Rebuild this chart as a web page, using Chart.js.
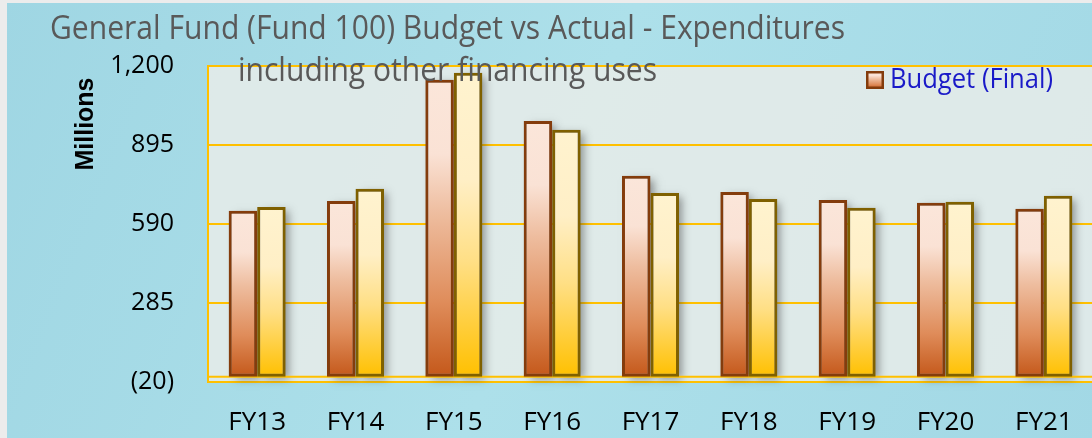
<!DOCTYPE html>
<html>
<head>
<meta charset="utf-8">
<script src="https://cdn.jsdelivr.net/npm/chart.js@4.4.1/dist/chart.umd.min.js"></script>
<style>
html,body{margin:0;padding:0;overflow:hidden;background:#a8dbe6;}
#wrap{width:1100px;height:438px;position:relative;}
</style>
</head>
<body>
<div id="wrap"><canvas id="c" width="1100" height="438"></canvas></div>
<script>
// ---- data ----
const categories = ['FY13','FY14','FY15','FY16','FY17','FY18','FY19','FY20','FY21'];
const budgetFinal = [641, 679, 1147, 988, 776, 714, 683, 672, 649];
const actualSpent = [656, 726, 1174, 954, 710, 687, 653, 676, 699];
const yTickValues = [-20, 285, 590, 895, 1200];
const titleLines = ['General Fund (Fund 100) Budget vs Actual - Expenditures', 'including other financing uses'];
const yAxisTitle = 'Millions';
const seriesNames = ['Budget (Final)', 'Actual'];

// ---- styles ----
const budgetStops = [[0,'#FBE6DA'],[0.25,'#FAE2D5'],[0.45,'#EEBD9F'],[0.75,'#DF8C5A'],[1,'#C4581A']];
const actualStops = [[0,'#FFF3CF'],[0.35,'#FFEFC6'],[0.62,'#FFDF85'],[1,'#FFC000']];

function barGradient(context, stops) {
  const chart = context.chart;
  const y = chart.scales && chart.scales.y;
  if (!y || context.raw === undefined || !isFinite(y.top)) return stops[0][1];
  const top = y.getPixelForValue(context.raw);
  const base = y.getPixelForValue(0);
  if (!isFinite(top) || !isFinite(base) || top === base) return stops[0][1];
  const g = chart.ctx.createLinearGradient(0, top, 0, base);
  stops.forEach(s => g.addColorStop(s[0], s[1]));
  return g;
}

function condensedText(ctx, text, x, y, size, targetWidth, align) {
  ctx.font = size + 'px "Open Sans", sans-serif';
  const w = ctx.measureText(text).width;
  const sx = targetWidth / w;
  ctx.save();
  ctx.translate(x, y);
  ctx.scale(sx, 1);
  ctx.textAlign = align;
  ctx.fillText(text, 0, 0);
  ctx.restore();
  return sx;
}

const backgroundPlugin = {
  id: 'bg',
  beforeDraw(chart) {
    const {ctx, width, height, chartArea} = chart;
    ctx.save();
    const g = ctx.createLinearGradient(0, 0, width, height);
    g.addColorStop(0, '#9fd6e3');
    g.addColorStop(0.5, '#ade0ea');
    g.addColorStop(1, '#a2d8e5');
    ctx.fillStyle = g;
    ctx.fillRect(0, 0, width, height);
    ctx.fillStyle = '#ececec';
    ctx.fillRect(0, 0, width, 3);
    ctx.fillRect(0, 0, 7, height);
    ctx.fillStyle = 'rgba(234,237,233,0.82)';
    ctx.fillRect(chartArea.left, chartArea.top, chartArea.right - chartArea.left, chartArea.bottom - chartArea.top);
    ctx.restore();
  },
  beforeDatasetsDraw(chart) {
    const {ctx} = chart;
    const y = chart.scales.y;
    ctx.save();
    ctx.shadowColor = 'rgba(60,60,60,0.5)';
    ctx.shadowBlur = 8;
    ctx.shadowOffsetX = 5;
    ctx.shadowOffsetY = 2;
    ctx.fillStyle = 'rgba(120,120,120,1)';
    chart.data.datasets.forEach((ds, i) => {
      chart.getDatasetMeta(i).data.forEach(el => {
        const p = el.getProps(['x','y','base','width'], true);
        ctx.fillRect(p.x - p.width / 2 + 2, p.y + 2, p.width - 4, p.base - p.y - 2);
      });
    });
    ctx.restore();
    ctx.save();
    const z = y.getPixelForValue(0);
    ctx.strokeStyle = '#FFC000';
    ctx.lineWidth = 2;
    ctx.beginPath();
    ctx.moveTo(chart.chartArea.left, z);
    ctx.lineTo(chart.chartArea.right, z);
    ctx.stroke();
    ctx.restore();
  },
  afterDraw(chart) {
    const {ctx} = chart;
    ctx.save();
    // title (two lines, condensed sans)
    ctx.fillStyle = '#595959';
    ctx.textBaseline = 'alphabetic';
    const sx = condensedText(ctx, titleLines[0], 447.5, 39, 32, 795, 'center');
    ctx.font = '32px "Open Sans", sans-serif';
    const w2 = ctx.measureText(titleLines[1]).width * sx;
    condensedText(ctx, titleLines[1], 447.5, 81, 32, w2, 'center');
    // y axis title
    ctx.save();
    ctx.translate(86, 124);
    ctx.rotate(-Math.PI / 2);
    ctx.fillStyle = '#000';
    ctx.font = 'bold 25px "Liberation Sans", Arial, sans-serif';
    ctx.textAlign = 'center';
    ctx.textBaseline = 'middle';
    ctx.fillText(yAxisTitle, 0, 0);
    ctx.restore();
    // legend
    const mx = 866, my = 71, ms = 18;
    const lg = ctx.createLinearGradient(0, my, 0, my + ms);
    budgetStops.forEach(s => lg.addColorStop(s[0], s[1]));
    ctx.fillStyle = lg;
    ctx.fillRect(mx, my, ms, ms);
    ctx.strokeStyle = '#843C0C';
    ctx.lineWidth = 2.5;
    ctx.strokeRect(mx + 1.25, my + 1.25, ms - 2.5, ms - 2.5);
    ctx.fillStyle = '#1a1ac8';
    ctx.textBaseline = 'alphabetic';
    condensedText(ctx, seriesNames[0], 890, 88, 28, 163, 'left');
    ctx.font = '28px "Open Sans", sans-serif';
    ctx.textAlign = 'left';
    ctx.fillText(seriesNames[1], 1120, 88);
    ctx.restore();
  }
};

function fmt(v) {
  const s = Math.abs(v).toLocaleString('en-US');
  return v < 0 ? '(' + s + ')' : s;
}

new Chart(document.getElementById('c'), {
  type: 'bar',
  data: {
    labels: categories,
    datasets: [
      {
        label: seriesNames[0],
        data: budgetFinal,
        backgroundColor: ctx => barGradient(ctx, budgetStops),
        borderColor: '#843C0C',
        borderWidth: 3,
        borderSkipped: false,
        categoryPercentage: 0.58,
        barPercentage: 1.0
      },
      {
        label: seriesNames[1],
        data: actualSpent,
        backgroundColor: ctx => barGradient(ctx, actualStops),
        borderColor: '#7F6000',
        borderWidth: 3,
        borderSkipped: false,
        categoryPercentage: 0.58,
        barPercentage: 1.0
      }
    ]
  },
  options: {
    responsive: false,
    animation: false,
    layout: { padding: { top: 66, left: 0, right: 7, bottom: 0 } },
    plugins: {
      legend: { display: false },
      title: { display: false },
      tooltip: { enabled: false }
    },
    scales: {
      x: {
        grid: { display: false, drawTicks: false },
        border: { display: false },
        ticks: { font: { family: 'Open Sans', size: 26 }, color: '#000', padding: 25, maxRotation: 0, autoSkip: false },
        afterFit: s => { s.height = 56; }
      },
      y: {
        min: -20,
        max: 1200,
        afterBuildTicks: s => { s.ticks = yTickValues.map(v => ({ value: v })); },
        grid: { color: '#FFC000', lineWidth: 2, drawTicks: false },
        border: { display: true, color: '#FFC000', width: 2 },
        ticks: { font: { family: 'Open Sans', size: 25 }, color: '#000', padding: 34, callback: v => fmt(v) },
        afterFit: s => { s.width = 208; }
      }
    }
  },
  plugins: [backgroundPlugin]
});
</script>
</body>
</html>
